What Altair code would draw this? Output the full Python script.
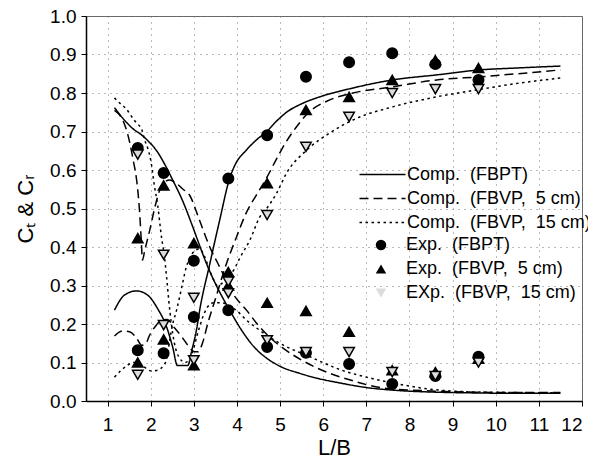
import altair as alt
import pandas as pd

# ---------------- computed curves ----------------
fbpt_ct_x = [1.16, 1.35, 1.58, 1.8, 1.97, 2.15, 2.3, 2.51, 2.74, 2.95, 3.13, 3.3, 3.5, 3.83, 4.13, 4.4, 4.68, 5.0, 5.45, 5.9, 6.38, 7.0, 7.77, 8.6, 9.5, 10.5, 11.5]
fbpt_ct_y = [0.762, 0.735, 0.708, 0.69, 0.672, 0.648, 0.62, 0.574, 0.52, 0.46, 0.405, 0.355, 0.305, 0.236, 0.18, 0.14, 0.112, 0.09, 0.072, 0.058, 0.047, 0.035, 0.027, 0.023, 0.021, 0.02, 0.02]

fbpt_cr_x = [1.16, 1.39, 1.67, 1.93, 2.16, 2.37, 2.51, 2.62, 2.86, 2.95, 3.07, 3.13, 3.37, 3.6, 3.83, 3.95, 4.22, 4.45, 4.69, 4.9, 5.15, 5.5, 5.92, 6.69, 7.61, 8.63, 9.63, 10.5, 11.5]
fbpt_cr_y = [0.236, 0.275, 0.286, 0.275, 0.24, 0.192, 0.14, 0.092, 0.092, 0.13, 0.19, 0.232, 0.356, 0.47, 0.578, 0.612, 0.652, 0.678, 0.70, 0.725, 0.75, 0.772, 0.79, 0.813, 0.834, 0.847, 0.86, 0.865, 0.87]

fbvp5_ct_x = [1.16, 1.35, 1.46, 1.58, 1.7, 1.74, 1.78, 1.81, 1.86, 1.97, 2.09, 2.2, 2.32, 2.44, 2.6, 2.75, 2.9, 3.13, 3.37, 3.6, 3.9, 4.22, 4.53, 4.92, 5.06, 5.85, 6.61, 7.38, 8.5, 9.5, 10.5, 11.5]
fbvp5_ct_y = [0.755, 0.73, 0.696, 0.634, 0.548, 0.496, 0.42, 0.366, 0.39, 0.44, 0.5, 0.545, 0.568, 0.574, 0.565, 0.55, 0.535, 0.47, 0.4, 0.348, 0.28, 0.236, 0.192, 0.15, 0.138, 0.086, 0.055, 0.034, 0.026, 0.023, 0.022, 0.022]

fbvp5_cr_x = [1.16, 1.35, 1.51, 1.67, 1.79, 1.88, 1.97, 2.13, 2.25, 2.38, 2.55, 2.72, 2.86, 3.02, 3.1, 3.2, 3.32, 3.5, 3.76, 3.99, 4.22, 4.45, 4.69, 4.9, 5.15, 5.4, 5.62, 6.15, 6.69, 7.61, 8.63, 9.63, 10.5, 11.5]
fbvp5_cr_y = [0.169, 0.182, 0.18, 0.164, 0.145, 0.148, 0.17, 0.197, 0.21, 0.212, 0.19, 0.167, 0.145, 0.128, 0.128, 0.15, 0.2, 0.265, 0.358, 0.426, 0.49, 0.535, 0.58, 0.625, 0.675, 0.715, 0.745, 0.782, 0.8, 0.816, 0.834, 0.842, 0.85, 0.86]

fbvp15_ct_x = [1.16, 1.32, 1.44, 1.55, 1.67, 1.79, 1.86, 1.93, 2.0, 2.09, 2.16, 2.25, 2.32, 2.37, 2.42, 2.48, 2.55, 2.65, 2.8, 2.95, 3.1, 3.25, 3.45, 3.65, 3.85, 3.99, 4.22, 4.45, 4.99, 5.69, 6.38, 7.0, 7.61, 8.54, 9.33, 10.5, 11.5]
fbvp15_ct_y = [0.787, 0.77, 0.758, 0.74, 0.722, 0.706, 0.678, 0.657, 0.626, 0.556, 0.51, 0.426, 0.374, 0.32, 0.26, 0.2, 0.15, 0.115, 0.1, 0.12, 0.18, 0.23, 0.255, 0.255, 0.245, 0.235, 0.21, 0.19, 0.15, 0.115, 0.082, 0.062, 0.047, 0.03, 0.024, 0.022, 0.021]

fbvp15_cr_x = [1.16, 1.32, 1.46, 1.62, 1.8, 2.02, 2.16, 2.28, 2.36, 2.43, 2.5, 2.6, 2.67, 2.74, 2.83, 2.9, 3.02, 3.13, 3.25, 3.4, 3.55, 3.7, 3.83, 3.95, 4.06, 4.3, 4.53, 4.69, 4.92, 5.15, 5.62, 6.15, 6.69, 7.61, 8.63, 9.56, 10.5, 11.5]
fbvp15_cr_y = [0.062, 0.08, 0.093, 0.1, 0.092, 0.078, 0.08, 0.09, 0.105, 0.15, 0.195, 0.236, 0.27, 0.306, 0.35, 0.37, 0.39, 0.395, 0.375, 0.33, 0.3, 0.31, 0.325, 0.345, 0.37, 0.418, 0.478, 0.5, 0.54, 0.592, 0.652, 0.696, 0.73, 0.764, 0.79, 0.808, 0.825, 0.839]

# ---------------- experimental points ----------------
exp_x = [1.7, 2.3, 3.0, 3.8, 4.7, 5.6, 6.6, 7.6, 8.6, 9.6]
exp_fbpt_ct = [0.657, 0.592, 0.364, 0.236, 0.14, 0.125, 0.096, 0.044, 0.065, 0.115]
exp_fbpt_cr = [0.132, 0.124, 0.218, 0.578, 0.69, 0.842, 0.88, 0.903, 0.875, 0.834]
exp_5_ct = [0.423, 0.56, 0.41, 0.335, 0.255, 0.234, 0.18, 0.08, 0.075, 0.11]
exp_5_cr = [0.10, 0.16, 0.093, 0.30, 0.566, 0.756, 0.79, 0.834, 0.885, 0.865]
exp_15_ct = [0.64, 0.38, 0.106, 0.28, 0.158, 0.127, 0.127, 0.075, 0.065, 0.10]
exp_15_cr = [0.068, 0.197, 0.268, 0.31, 0.483, 0.66, 0.738, 0.80, 0.81, 0.81]

line_names = ["Comp.\u00a0 (FBPT)", "Comp.\u00a0 (FBVP,\u00a0 5 cm)", "Comp.\u00a0 (FBVP,\u00a0 15 cm)"]
pt_names = ["Exp.\u00a0 (FBPT)", "Exp.\u00a0 (FBVP,\u00a0 5 cm)", "EXp.\u00a0 (FBVP,\u00a0 15 cm)"]

rows = []
curves = [
    (line_names[0], "ct", fbpt_ct_x, fbpt_ct_y),
    (line_names[0], "cr", fbpt_cr_x, fbpt_cr_y),
    (line_names[1], "ct", fbvp5_ct_x, fbvp5_ct_y),
    (line_names[1], "cr", fbvp5_cr_x, fbvp5_cr_y),
    (line_names[2], "ct", fbvp15_ct_x, fbvp15_ct_y),
    (line_names[2], "cr", fbvp15_cr_x, fbvp15_cr_y),
]
for name, br, xs, ys in curves:
    for i, (a, b) in enumerate(zip(xs, ys)):
        rows.append({"x": a, "y": b, "series": name, "branch": name + br, "o": i})
df_lines = pd.DataFrame(rows)

prow = []
pts = [
    (pt_names[0], exp_fbpt_ct, 0), (pt_names[0], exp_fbpt_cr, 0),
    (pt_names[1], exp_5_ct, 1), (pt_names[1], exp_5_cr, 1),
    (pt_names[2], exp_15_ct, 2), (pt_names[2], exp_15_cr, 2),
]
for name, ys, k in pts:
    for a, b in zip(exp_x, ys):
        prow.append({"x": a, "y": b, "series": name, "k": k})
df_pts = pd.DataFrame(prow)

FONT = "Liberation Sans"

xenc = alt.X("x:Q", scale=alt.Scale(domain=[0.5, 12], nice=False, zero=False),
             axis=alt.Axis(values=list(range(1, 13)), format="d", title="L/B"))
yenc = alt.Y("y:Q", scale=alt.Scale(domain=[0, 1], nice=False),
             axis=alt.Axis(values=[round(i * 0.1, 1) for i in range(11)], format=".1f", title="Cₜ & Cᵣ"))

# wide horizontal line symbol with a small nominal size, so rows stay compact
line_legend = alt.Legend(title=None, orient="none", legendX=284, legendY=146,
                         symbolType="M-2,0H2", symbolSize=529, labelFontSize=18,
                         labelFont=FONT, labelColor="black", labelOffset=12, labelLimit=400,
                         rowPadding=2, padding=0, symbolStrokeColor="black", symbolFillColor="transparent")

lines = alt.Chart(df_lines).mark_line(interpolate="monotone", color="black", strokeCap="butt").encode(
    x=xenc, y=yenc,
    strokeDash=alt.StrokeDash("series:N", scale=alt.Scale(domain=line_names, range=[[1, 0], [9, 5], [2.5, 3.5]]), legend=line_legend),
    strokeWidth=alt.StrokeWidth("series:N", scale=alt.Scale(domain=line_names, range=[1.5, 1.5, 3]), legend=line_legend),
    detail="branch:N",
    order="o:Q",
)

pt_legend = alt.Legend(title=None, orient="none", legendX=286, legendY=220,
                       labelFontSize=18, labelFont=FONT, labelColor="black", labelOffset=16, labelLimit=400,
                       rowPadding=6, padding=0, symbolStrokeColor="black", symbolStrokeWidth=1.5,
                       symbolSize=110)

points = alt.Chart(df_pts).mark_point(filled=False, color="black", stroke="black", strokeWidth=1.5,
                                      opacity=1, fillOpacity=1, size=110).encode(
    x=xenc, y=yenc,
    shape=alt.Shape("series:N", scale=alt.Scale(domain=pt_names, range=["circle", "triangle-up", "triangle-down"]), legend=pt_legend),
    fill=alt.Fill("series:N", scale=alt.Scale(domain=pt_names, range=["black", "black", "#dcdcdc"]), legend=pt_legend),
    order="k:Q",
)

chart = alt.layer(lines, points).properties(
    width=496, height=385,
    autosize=alt.AutoSizeParams(type="none"),
    padding={"left": 78, "top": 8, "right": 6, "bottom": 58},
).configure_view(stroke="#666", strokeWidth=1).configure_axis(
    grid=True, gridColor="#777", gridDash=[1, 5], gridWidth=1,
    domainColor="black", domainWidth=1.5, tickColor="black", tickSize=5, tickWidth=1,
    labelFont=FONT, labelFontSize=19, labelColor="black",
    titleFont=FONT, titleFontSize=22, titleFontWeight="normal", titleColor="black",
).configure_axisX(labelPadding=9, titlePadding=3).configure_axisY(labelPadding=5, titlePadding=12)

chart.save("out.html", embed_options={"renderer": "svg", "actions": False})
